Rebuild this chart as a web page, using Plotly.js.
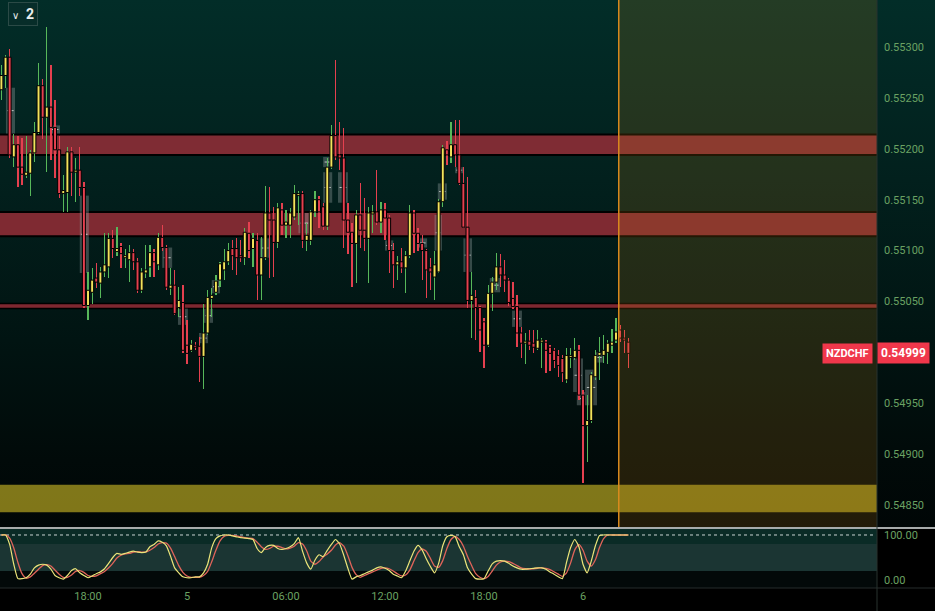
<!DOCTYPE html>
<html><head><meta charset="utf-8">
<script src="https://cdn.plot.ly/plotly-3.0.1.min.js"></script>
<style>
html,body{margin:0;padding:0;width:935px;height:611px;overflow:hidden;
background:linear-gradient(to bottom,#022d28 0px,#02201d 180px,#011412 340px,#010a09 460px,#000606 527px,#000 528px,#000 611px);}
#chart{width:935px;height:611px;}
</style></head><body><div id="chart"></div>
<script>
const symbol = 'NZDCHF';
const startUTC = Date.UTC(2024, 2, 4, 12, 45);
const barMs = 15 * 60000;

const open = [0.55258,0.55272,0.55290,0.55192,0.55204,0.55182,0.55174,0.55176,0.55196,0.55216,
0.55262,0.55231,0.55241,0.55221,0.55199,0.55156,0.55157,0.55197,0.55177,0.55179,
0.55162,0.55046,0.55059,0.55073,0.55068,0.55079,0.55084,0.55112,0.55099,0.55104,
0.55093,0.55091,0.55098,0.55089,0.55061,0.55078,0.55084,0.55098,0.55086,0.55113,
0.55103,0.55063,0.55066,0.55044,0.55049,0.55007,0.55002,0.55007,0.55006,0.54996,
0.55019,0.55053,0.55059,0.55071,0.55081,0.55089,0.55102,0.55102,0.55095,0.55093,
0.55117,0.55102,0.55110,0.55076,0.55093,0.55137,0.55130,0.55108,0.55140,0.55125,
0.55125,0.55133,0.55154,0.55156,0.55110,0.55110,0.55138,0.55150,0.55143,0.55124,
0.55182,0.55213,0.55194,0.55191,0.55130,0.55118,0.55107,0.55135,0.55120,0.55112,
0.55136,0.55138,0.55128,0.55140,0.55132,0.55100,0.55086,0.55089,0.55083,0.55095,
0.55137,0.55117,0.55107,0.55100,0.55083,0.55074,0.55079,0.55148,0.55199,0.55192,
0.55204,0.55194,0.55166,0.55123,0.55051,0.55054,0.55044,0.55030,0.55007,0.55058,
0.55069,0.55084,0.55076,0.55071,0.55053,0.55045,0.55019,0.55009,0.55011,0.55009,
0.55004,0.55010,0.55010,0.55005,0.55002,0.54997,0.54994,0.54973,0.54995,0.54995,
0.55002,0.54958,0.54928,0.54933,0.54976,0.54997,0.54997,0.55000,0.55007,0.55012,
0.55022,0.55014,0.55010];

const high = [0.55282,0.55292,0.55298,0.55215,0.55213,0.55211,0.55213,0.55199,0.55226,0.55284,
0.55269,0.55320,0.55282,0.55248,0.55213,0.55174,0.55202,0.55202,0.55191,0.55202,
0.55167,0.55079,0.55083,0.55088,0.55084,0.55117,0.55117,0.55120,0.55123,0.55107,
0.55102,0.55105,0.55102,0.55093,0.55083,0.55105,0.55105,0.55102,0.55117,0.55125,
0.55105,0.55083,0.55081,0.55064,0.55066,0.55032,0.55012,0.55010,0.55015,0.55048,
0.55061,0.55063,0.55076,0.55089,0.55102,0.55107,0.55110,0.55112,0.55110,0.55122,
0.55128,0.55117,0.55117,0.55113,0.55163,0.55162,0.55143,0.55147,0.55147,0.55140,
0.55142,0.55164,0.55159,0.55159,0.55127,0.55140,0.55159,0.55154,0.55147,0.55191,
0.55223,0.55287,0.55226,0.55220,0.55147,0.55127,0.55140,0.55166,0.55152,0.55143,
0.55145,0.55179,0.55148,0.55147,0.55135,0.55107,0.55095,0.55103,0.55100,0.55145,
0.55140,0.55122,0.55115,0.55102,0.55093,0.55100,0.55151,0.55204,0.55208,0.55226,
0.55228,0.55228,0.55182,0.55172,0.55079,0.55061,0.55046,0.55034,0.55066,0.55074,
0.55098,0.55097,0.55091,0.55073,0.55069,0.55056,0.55025,0.55019,0.55022,0.55022,
0.55022,0.55014,0.55012,0.55007,0.55004,0.55002,0.54997,0.55004,0.55004,0.55014,
0.55007,0.54963,0.54958,0.54981,0.55002,0.55015,0.55017,0.55012,0.55023,0.55034,
0.55027,0.55022,0.55014];

const low = [0.55248,0.55260,0.55191,0.55182,0.55162,0.55164,0.55171,0.55154,0.55187,0.55215,
0.55210,0.55177,0.55189,0.55171,0.55152,0.55138,0.55138,0.55154,0.55148,0.55154,
0.55044,0.55032,0.55048,0.55063,0.55053,0.55074,0.55073,0.55093,0.55095,0.55083,
0.55083,0.55069,0.55081,0.55058,0.55058,0.55073,0.55074,0.55074,0.55081,0.55100,
0.55061,0.55056,0.55037,0.55035,0.54999,0.54989,0.55000,0.55002,0.54971,0.54964,
0.55017,0.55035,0.55056,0.55064,0.55071,0.55086,0.55081,0.55076,0.55089,0.55086,
0.55093,0.55084,0.55051,0.55051,0.55091,0.55073,0.55074,0.55103,0.55115,0.55112,
0.55112,0.55130,0.55125,0.55103,0.55100,0.55105,0.55133,0.55122,0.55120,0.55120,
0.55180,0.55189,0.55179,0.55103,0.55097,0.55064,0.55068,0.55103,0.55100,0.55068,
0.55117,0.55125,0.55117,0.55110,0.55078,0.55063,0.55071,0.55078,0.55058,0.55093,
0.55098,0.55100,0.55071,0.55053,0.55061,0.55051,0.55078,0.55143,0.55184,0.55186,
0.55182,0.55164,0.55122,0.55044,0.55014,0.55012,0.55000,0.54985,0.55005,0.55041,
0.55061,0.55064,0.55059,0.55046,0.55043,0.55005,0.54994,0.54989,0.55002,0.54999,
0.55002,0.54985,0.54980,0.54982,0.54985,0.54976,0.54971,0.54970,0.54985,0.54992,
0.54953,0.54872,0.54892,0.54931,0.54973,0.54973,0.54990,0.54989,0.54999,0.55009,
0.55010,0.54999,0.54985];

const close = [0.55272,0.55290,0.55194,0.55204,0.55182,0.55175,0.55177,0.55196,0.55216,0.55262,
0.55231,0.55241,0.55221,0.55199,0.55156,0.55159,0.55197,0.55177,0.55179,0.55162,
0.55046,0.55061,0.55071,0.55069,0.55079,0.55086,0.55112,0.55102,0.55102,0.55097,
0.55095,0.55098,0.55089,0.55061,0.55079,0.55081,0.55098,0.55089,0.55113,0.55103,
0.55064,0.55066,0.55038,0.55051,0.55002,0.54999,0.55008,0.55005,0.54996,0.55019,
0.55054,0.55056,0.55070,0.55087,0.55089,0.55100,0.55095,0.55093,0.55093,0.55118,
0.55100,0.55112,0.55076,0.55093,0.55137,0.55130,0.55108,0.55142,0.55125,0.55128,
0.55137,0.55156,0.55156,0.55110,0.55115,0.55138,0.55150,0.55138,0.55124,0.55182,
0.55213,0.55192,0.55191,0.55130,0.55118,0.55107,0.55135,0.55120,0.55112,0.55137,
0.55138,0.55128,0.55140,0.55132,0.55100,0.55086,0.55089,0.55083,0.55095,0.55137,
0.55117,0.55107,0.55100,0.55081,0.55079,0.55086,0.55148,0.55201,0.55194,0.55204,
0.55194,0.55166,0.55123,0.55051,0.55056,0.55044,0.55022,0.55007,0.55058,0.55069,
0.55084,0.55076,0.55071,0.55049,0.55045,0.55019,0.55009,0.55011,0.55007,0.55005,
0.55012,0.55012,0.55002,0.54999,0.54992,0.54987,0.54980,0.54997,0.54997,0.55002,
0.54958,0.54928,0.54933,0.54978,0.54997,0.55000,0.55002,0.55009,0.55010,0.55020,
0.55014,0.55012,0.54999];

const stochK = [100,100,79,35,3,3,5,13,27,33, 35,33,24,10,5,2,10,21,25,16,
10,5,9,14,18,25,37,50,59,57, 59,62,64,62,61,62,74,79,87,84,
76,53,27,16,7,5,5,7,7,16, 35,72,92,98,100,100,98,96,94,93,
92,90,70,61,72,77,77,70,68,70, 74,81,94,64,38,24,44,56,52,66,
79,90,80,55,26,2,7,10,14,18, 22,27,29,26,21,13,9,5,20,42,
64,77,67,47,30,16,37,76,96,99, 96,74,56,27,13,3,2,3,20,36,
42,43,42,37,31,27,24,24,25,26, 27,27,24,18,13,7,3,39,72,90,
74,35,16,42,76,99,100,100,100,100, 100,100,100];

const stochD = [100,100,93,71,39,14,4,7,15,24, 32,34,31,22,13,6,6,11,19,21,
17,10,8,9,14,19,27,37,49,55, 58,59,62,63,62,62,66,72,80,83,
82,71,52,32,17,9,6,6,6,10, 19,41,66,87,97,99,99,98,96,94,
93,92,84,74,68,70,75,75,72,69, 71,75,83,80,65,42,35,41,51,58,
66,78,83,75,54,28,12,6,10,14, 18,22,26,27,25,20,14,9,11,22,
42,61,69,64,48,31,28,43,70,90, 97,90,75,52,32,14,6,3,8,20,
33,40,42,41,37,32,27,25,24,25, 26,27,26,23,18,13,8,16,38,67,
79,66,42,31,45,72,92,100,100,100, 100,100,100];

const xTickVals = ['2024-03-04 18:00','2024-03-05 00:00','2024-03-05 06:00','2024-03-05 12:00','2024-03-05 18:00','2024-03-06 00:00'];
const xTickText = ['18:00','5','06:00','12:00','18:00','6'];
const priceTicks = [0.5485,0.549,0.5495,0.5505,0.551,0.5515,0.552,0.5525,0.553];
const stochTicks = [0, 100];
const stochTickText = ['0.00','100.00'];

const zoneTop = [0.55214, 0.55138, 0.55048, 0.54870];
const zoneBot = [0.55194, 0.55114, 0.55043, 0.54843];
const zoneKind = ['red','red','red','yellow'];

const boxStart = [1.1,11.8,19.0,39.0,42.8,47.9,49.1,51.0,62.7,72.0,78.0,78.0,81.6,93.0,100.8,105.8,105.0,110.0,112.0,118.4,123.8,138.6,139.5,141.5,143.9];
const boxEnd   = [3.3,14.2,21.2,41.4,45.2,50.1,51.3,53.0,65.1,74.8,80.4,80.2,84.0,95.0,103.2,108.0,106.8,112.0,114.1,120.9,126.2,141.0,141.5,144.4,145.8];
const boxTop   = [0.55260,0.55223,0.55154,0.55103,0.55043,0.55019,0.55043,0.55071,0.55112,0.55137,0.55192,0.55177,0.55177,0.55110,0.55112,0.55166,0.55135,0.55182,0.55112,0.55073,0.55041,0.54994,0.54961,0.54983,0.55000];
const boxBot   = [0.55215,0.55215,0.55078,0.55083,0.55027,0.55009,0.55029,0.55058,0.55093,0.55117,0.55182,0.55147,0.55147,0.55100,0.55103,0.55150,0.55100,0.55176,0.55079,0.55059,0.55025,0.54961,0.54948,0.54948,0.54990];

const sessionStart = '2024-03-06 02:10';
const xRange = ['2024-03-04 12:39:54', '2024-03-06 17:49:06'];
const stochRange = [-17.8, 113.3];
const priceRange = [0.548284, 0.553462];

// ---- build ----
const t = i => startUTC + i * barMs;
const up = {x:[], b:[], h:[], o:[], c:[]}, dn = {x:[], b:[], h:[], o:[], c:[]};
for (let i = 0; i < close.length; i++) {
  const g = close[i] >= open[i] ? up : dn;
  g.x.push(t(i)); g.b.push(low[i]); g.h.push(high[i] - low[i]);
  g.o.push(open[i]); g.c.push(close[i] - open[i]);
}
const times = close.map((_, i) => t(i));
const YEL = '#f2e35b', RED = '#e5404f', GRN = '#57b85a';

const traces = [
  {type:'bar', x:up.x, base:up.b, y:up.h, width:barMs*0.3, marker:{color:GRN, line:{width:0}}, hoverinfo:'skip'},
  {type:'bar', x:dn.x, base:dn.b, y:dn.h, width:barMs*0.3, marker:{color:RED, line:{width:0}}, hoverinfo:'skip'},
  {type:'bar', x:up.x, base:up.o, y:up.c, width:barMs*0.72, marker:{color:YEL, line:{width:1, color:'#000'}}, hoverinfo:'skip'},
  {type:'bar', x:dn.x, base:dn.o, y:dn.c, width:barMs*0.72, marker:{color:RED, line:{width:1, color:'#000'}}, hoverinfo:'skip'},
  {type:'scatter', mode:'lines', x:times, y:stochD, xaxis:'x', yaxis:'y2', line:{color:'#e0645a', width:1.3, shape:'spline', smoothing:0.5}, hoverinfo:'skip'},
  {type:'scatter', mode:'lines', x:times, y:stochK, xaxis:'x', yaxis:'y2', line:{color:'#ece57a', width:1.2, shape:'spline', smoothing:0.5}, hoverinfo:'skip'}
];

const shapes = [];
shapes.push({type:'rect', xref:'paper', yref:'y2', x0:0, x1:1, y0:80, y1:stochRange[1], fillcolor:'#0a2b26', line:{width:0}, layer:'below'});
shapes.push({type:'rect', xref:'paper', yref:'y2', x0:0, x1:1, y0:20, y1:80, fillcolor:'#1b3533', line:{width:0}, layer:'below'});
shapes.push({type:'rect', xref:'paper', yref:'y2', x0:0, x1:1, y0:stochRange[0], y1:20, fillcolor:'#030909', line:{width:0}, layer:'below'});
shapes.push({type:'line', xref:'paper', yref:'y2', x0:0, x1:0.996, y0:100, y1:100, line:{color:'rgba(235,240,240,0.85)', width:1, dash:'dot'}, layer:'below'});
zoneTop.forEach((top, k) => {
  const red = zoneKind[k] === 'red';
  shapes.push({type:'rect', xref:'paper', yref:'y', x0:0, x1:1, y0:zoneBot[k], y1:top,
    fillcolor: red ? 'rgba(198,50,64,0.64)' : 'rgba(214,194,38,0.6)', line:{width:0}, layer:'below'});
  if (red) {
    const w = (top - zoneBot[k]) < 0.0001 ? 1.5 : 2;
    shapes.push({type:'line', xref:'paper', yref:'y', x0:0, x1:1, y0:top, y1:top, line:{color:'#000', width:w}, layer:'below'});
    shapes.push({type:'line', xref:'paper', yref:'y', x0:0, x1:1, y0:zoneBot[k], y1:zoneBot[k], line:{color:'#000', width:w}, layer:'below'});
  }
});
boxStart.forEach((s, k) => {
  shapes.push({type:'rect', xref:'x', yref:'y', x0:t(s), x1:t(boxEnd[k]), y0:boxBot[k], y1:boxTop[k],
    fillcolor:'rgba(150,162,162,0.36)', line:{width:0}, layer:'below'});
  const mid = (boxTop[k] + boxBot[k]) / 2, pad = (boxEnd[k] - s) * 0.15;
  shapes.push({type:'line', xref:'x', yref:'y', x0:t(s + pad), x1:t(boxEnd[k] - pad), y0:mid, y1:mid,
    line:{color:'rgba(235,235,235,0.75)', width:1}, layer:'below'});
});
shapes.push({type:'rect', xref:'x', yref:'y domain', x0:sessionStart, x1:xRange[1], y0:0, y1:1, fillcolor:'rgba(205,135,25,0.17)', line:{width:0}, layer:'above'});
shapes.push({type:'line', xref:'x', yref:'y domain', x0:sessionStart, x1:sessionStart, y0:0, y1:1, line:{color:'#d98a1e', width:1.5}, layer:'above'});
shapes.push({type:'line', xref:'paper', yref:'paper', x0:0, x1:1.07, y0:0.1021, y1:0.1021, line:{color:'#dfe5e5', width:1.5}, layer:'above'});
shapes.push({type:'line', xref:'paper', yref:'paper', x0:0, x1:1.07, y0:0, y1:0, line:{color:'#262c2c', width:1}, layer:'above'});
shapes.push({type:'line', xref:'paper', yref:'paper', x0:1, x1:1, y0:-0.04, y1:1, line:{color:'#28332f', width:1}, layer:'above'});

const last = close[close.length - 1];
const annotations = [
  {xref:'paper', yref:'y', x:1, y:last, xanchor:'left', yanchor:'middle', showarrow:false,
   text:'<b>' + last.toFixed(5) + '</b>', font:{color:'#fff', size:12, family:'Roboto'}, bgcolor:'#f0374b', borderpad:3},
  {xref:'paper', yref:'y', x:0.9955, y:last, xanchor:'right', yanchor:'middle', showarrow:false,
   text:'<b>' + symbol + '</b>', font:{color:'#fff', size:11, family:'Roboto'}, bgcolor:'#f0374b', borderpad:3},
  {xref:'paper', yref:'paper', x:0.009, y:0.997, xanchor:'left', yanchor:'top', showarrow:false,
   text:'<span style="font-size:10px">∨</span>  <b>2</b>', font:{color:'#e8eeee', size:14, family:'Roboto'},
   bgcolor:'rgba(8,46,42,0.9)', bordercolor:'#2b4a46', borderwidth:1, borderpad:3}
];

const axisFont = {color:'#6aa263', size:11, family:'Roboto'};
const layout = {
  width:935, height:611,
  margin:{l:0, r:58, t:0, b:23},
  paper_bgcolor:'rgba(0,0,0,0)', plot_bgcolor:'rgba(0,0,0,0)',
  showlegend:false, barmode:'overlay', bargap:0,
  xaxis:{type:'date', range:xRange, anchor:'y2', showgrid:false, zeroline:false, showline:false,
    tickmode:'array', tickvals:xTickVals, ticktext:xTickText, tickfont:axisFont, ticks:''},
  yaxis:{domain:[0.10374, 1], range:priceRange, side:'right', anchor:'x', showgrid:false, zeroline:false,
    tickmode:'array', tickvals:priceTicks, tickformat:'.5f', tickfont:axisFont, ticks:'', ticklabelstandoff:6},
  yaxis2:{domain:[0, 0.10034], range:stochRange, side:'right', anchor:'x', showgrid:false, zeroline:false,
    tickmode:'array', tickvals:stochTicks, ticktext:stochTickText, tickfont:axisFont, ticks:'', ticklabelstandoff:6},
  shapes:shapes, annotations:annotations
};
Plotly.newPlot('chart', traces, layout, {displayModeBar:false, staticPlot:true});
</script></body></html>
